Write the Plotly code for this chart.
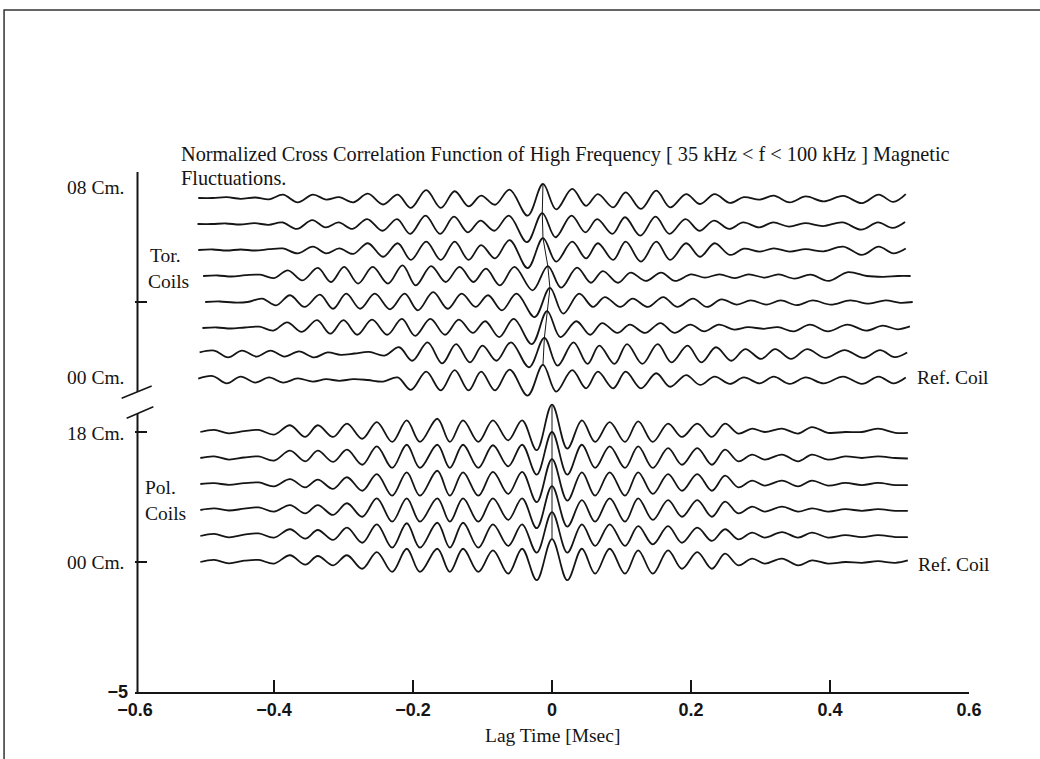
import plotly.graph_objects as go

# ---------------- data ----------------
# lag positions (ms) of the alternating extrema, toroidal group
lag_tor = [-0.506, -0.485, -0.465, -0.445, -0.424, -0.404, -0.384, -0.363, -0.341, -0.322,
           -0.303, -0.283, -0.262, -0.240, -0.219, -0.200, -0.178, -0.157, -0.137, -0.117,
           -0.099, -0.079, -0.058, -0.032, -0.010, 0.009, 0.032, 0.052, 0.069, 0.091,
           0.109, 0.131, 0.153, 0.173, 0.196, 0.216, 0.237, 0.259, 0.279, 0.302,
           0.322, 0.345, 0.368, 0.394, 0.422, 0.449, 0.473, 0.494, 0.512]
# lag positions (ms) of the alternating extrema, poloidal group
lag_pol = [-0.506, -0.486, -0.465, -0.443, -0.422, -0.400, -0.377, -0.355, -0.337, -0.315,
           -0.295, -0.273, -0.252, -0.230, -0.209, -0.190, -0.165, -0.147, -0.128, -0.106,
           -0.085, -0.063, -0.043, -0.022, 0.000, 0.022, 0.043, 0.062, 0.083, 0.105,
           0.124, 0.145, 0.167, 0.187, 0.209, 0.230, 0.249, 0.268, 0.288, 0.306,
           0.331, 0.354, 0.374, 0.397, 0.422, 0.446, 0.469, 0.494, 0.512]

# small lag shift of each toroidal trace (peak drift)
shift_tor = [-0.003, -0.004, -0.003, 0.004, 0.007, 0.003, -0.001, -0.003]
# vertical offsets of the stacked traces
offset_tor = [14, 13, 12, 11, 10, 9, 8, 7]
offset_pol = [5, 4, 3, 2, 1, 0]

# normalized correlation values at the extrema (toroidal coils, top to bottom)
tor_1 = [0, 0, 0.03, -0.03, 0.02, -0.05, 0.13, -0.17, 0.13, -0.06, 0.03, -0.17, 0.17, -0.25, 0.13,
         -0.38, 0.30, -0.38, 0.26, -0.32, 0.09, -0.26, 0.32, -0.68, 0.54,
         -0.44, 0.35, -0.30, 0.15, -0.36, 0.22, -0.42, 0.28, -0.36, 0.15, -0.23, 0.15, -0.19, 0.03,
         -0.06, 0.09, -0.17, 0.06, -0.13, 0.08, -0.20, 0.13, -0.15, 0.15]
tor_2 = [0, 0, 0.02, -0.02, 0.03, -0.03, 0.06, -0.19, 0.15, -0.13, 0.06, -0.19, 0.19, -0.26, 0.19,
         -0.38, 0.32, -0.38, 0.28, -0.32, 0.13, -0.26, 0.32, -0.70, 0.42,
         -0.51, 0.32, -0.32, 0.19, -0.38, 0.26, -0.45, 0.28, -0.38, 0.19, -0.26, 0.13, -0.19, 0.06,
         -0.13, 0.06, -0.10, 0.03, -0.08, 0.06, -0.22, 0.06, -0.15, 0.08]
tor_3 = [0, 0.02, -0.02, 0.02, -0.02, 0.03, 0.06, -0.13, 0.13, -0.13, 0.06, -0.15, 0.26, -0.26, 0.26,
         -0.38, 0.32, -0.38, 0.32, -0.38, 0.19, -0.32, 0.38, -0.70, 0.46,
         -0.45, 0.32, -0.32, 0.26, -0.38, 0.32, -0.45, 0.32, -0.38, 0.26, -0.26, 0.26, -0.19, 0.05,
         -0.06, 0.06, -0.06, 0.03, -0.05, 0.13, -0.19, 0.13, -0.13, 0.06]
tor_4 = [0, 0.02, -0.02, 0.03, 0.05, -0.08, 0.22, -0.17, 0.31, -0.23, 0.35, -0.29, 0.35, -0.29, 0.41,
         -0.36, 0.38, -0.23, 0.35, -0.23, 0.28, -0.36, 0.35, -0.55, 0.38,
         -0.45, 0.32, -0.26, 0.19, -0.26, 0.13, -0.19, 0.13, -0.19, 0.06, -0.06, 0.06, -0.08, 0.06,
         -0.06, 0.06, -0.10, 0.05, -0.19, 0.15, 0.0, -0.03, 0.0, 0.0]
tor_5 = [0, 0.02, -0.02, 0.0, 0.13, -0.13, 0.26, -0.19, 0.28, -0.26, 0.32, -0.26, 0.32, -0.28, 0.32,
         -0.32, 0.38, -0.26, 0.32, -0.19, 0.26, -0.32, 0.32, -0.58, 0.54,
         -0.45, 0.32, -0.19, 0.19, -0.19, 0.13, -0.19, 0.19, -0.19, 0.13, -0.19, 0.10, -0.10, 0.06,
         -0.10, 0.06, -0.12, 0.06, -0.10, 0.06, -0.06, 0.06, -0.03, 0.0]
tor_6 = [0, 0.02, -0.02, 0.02, 0.05, -0.10, 0.22, -0.15, 0.30, -0.22, 0.30, -0.26, 0.32, -0.26, 0.35,
         -0.30, 0.35, -0.26, 0.32, -0.19, 0.26, -0.35, 0.35, -0.62, 0.65,
         -0.35, 0.26, -0.26, 0.19, -0.19, 0.13, -0.19, 0.19, -0.19, 0.13, -0.13, 0.13, -0.06, 0.03,
         -0.03, 0.03, -0.13, 0.13, -0.13, 0.13, -0.10, 0.09, -0.05, 0.06]
tor_7 = [0.06, 0.13, -0.13, 0.13, -0.10, 0.13, -0.10, 0.10, -0.13, 0.06, -0.03, 0.02, 0.08, -0.06, 0.26,
         -0.26, 0.45, -0.36, 0.38, -0.32, 0.32, -0.26, 0.45, -0.51, 0.62,
         -0.45, 0.45, -0.38, 0.32, -0.38, 0.38, -0.38, 0.38, -0.32, 0.32, -0.32, 0.26, -0.26, 0.19,
         -0.19, 0.19, -0.19, 0.19, -0.15, 0.15, -0.15, 0.15, -0.12, 0.06]
tor_8 = [0.05, 0.15, -0.13, 0.13, -0.10, 0.10, -0.10, 0.06, -0.06, 0.03, -0.03, 0.03, 0.0, -0.06, 0.10,
         -0.38, 0.32, -0.40, 0.38, -0.40, 0.32, -0.40, 0.40, -0.60, 0.58,
         -0.45, 0.38, -0.32, 0.32, -0.32, 0.32, -0.32, 0.26, -0.26, 0.19, -0.19, 0.13, -0.15, 0.10,
         -0.13, 0.13, -0.15, 0.10, -0.13, 0.13, -0.15, 0.13, -0.13, 0.10]

# poloidal coils, top to bottom
pol_1 = [0, 0.08, -0.05, 0.03, 0.08, -0.10, 0.26, -0.19, 0.26, -0.19, 0.32, -0.26, 0.38, -0.38, 0.45,
         -0.38, 0.51, -0.38, 0.45, -0.38, 0.45, -0.32, 0.45, -0.70, 1.05,
         -0.64, 0.45, -0.38, 0.38, -0.38, 0.41, -0.38, 0.32, -0.19, 0.32, -0.19, 0.32, -0.06, 0.13,
         0.0, 0.13, -0.06, 0.19, -0.03, 0.0, 0.0, 0.13, -0.03, -0.03]
pol_2 = [0, 0.06, -0.06, 0.02, 0.06, -0.10, 0.28, -0.13, 0.28, -0.15, 0.32, -0.26, 0.45, -0.38, 0.51,
         -0.38, 0.51, -0.38, 0.51, -0.38, 0.49, -0.32, 0.51, -0.64, 1.00,
         -0.64, 0.51, -0.38, 0.45, -0.38, 0.45, -0.38, 0.38, -0.26, 0.38, -0.26, 0.32, -0.13, 0.13,
         -0.06, 0.13, -0.13, 0.13, -0.06, 0.06, 0.0, 0.06, 0.0, -0.02]
pol_3 = [0, 0.03, -0.03, 0.03, 0.06, -0.09, 0.19, -0.13, 0.17, -0.19, 0.26, -0.26, 0.38, -0.45, 0.45,
         -0.45, 0.51, -0.45, 0.45, -0.45, 0.47, -0.38, 0.47, -0.70, 0.96,
         -0.64, 0.45, -0.45, 0.45, -0.45, 0.45, -0.38, 0.38, -0.26, 0.38, -0.26, 0.32, -0.13, 0.13,
         -0.06, 0.13, -0.09, 0.13, -0.06, 0.04, -0.04, 0.04, -0.04, -0.04]
pol_4 = [0, 0.06, -0.02, 0.05, 0.10, -0.06, 0.19, -0.13, 0.19, -0.19, 0.26, -0.26, 0.45, -0.45, 0.45,
         -0.45, 0.45, -0.45, 0.45, -0.45, 0.45, -0.38, 0.45, -0.70, 0.92,
         -0.64, 0.38, -0.45, 0.45, -0.45, 0.45, -0.38, 0.38, -0.26, 0.38, -0.26, 0.32, -0.13, 0.13,
         -0.06, 0.13, -0.06, 0.06, -0.06, 0.03, -0.03, 0.03, -0.03, -0.03]
pol_5 = [0, 0.08, -0.05, 0.05, 0.10, -0.06, 0.26, -0.10, 0.23, -0.15, 0.32, -0.26, 0.45, -0.45, 0.49,
         -0.45, 0.51, -0.45, 0.51, -0.45, 0.45, -0.38, 0.45, -0.64, 0.92,
         -0.64, 0.45, -0.38, 0.45, -0.38, 0.38, -0.32, 0.38, -0.26, 0.32, -0.19, 0.26, -0.13, 0.13,
         -0.06, 0.15, -0.06, 0.13, -0.06, 0.03, -0.04, 0.03, -0.04, -0.04]
pol_6 = [0, 0.08, -0.05, 0.05, 0.08, -0.06, 0.26, -0.10, 0.23, -0.13, 0.26, -0.26, 0.38, -0.38, 0.51,
         -0.38, 0.51, -0.38, 0.51, -0.38, 0.45, -0.45, 0.51, -0.70, 0.88,
         -0.70, 0.51, -0.45, 0.51, -0.45, 0.45, -0.45, 0.45, -0.26, 0.38, -0.26, 0.32, -0.13, 0.13,
         -0.06, 0.13, -0.13, 0.06, -0.06, 0.0, -0.03, 0.03, -0.03, 0.06]

tor_traces = [tor_1, tor_2, tor_3, tor_4, tor_5, tor_6, tor_7, tor_8]
pol_traces = [pol_1, pol_2, pol_3, pol_4, pol_5, pol_6]

x_ticks = [-0.6, -0.4, -0.2, 0, 0.2, 0.4, 0.6]
x_ticktext = ["\u22120.6", "\u22120.4", "\u22120.2", "0", "0.2", "0.4", "0.6"]
y_ticks = [-5, 0, 5, 10, 15]
y_ticktext = ["\u22125", "", "", "", ""]

TITLE_1 = "Normalized Cross Correlation Function of High Frequency [ 35 kHz &lt; f &lt; 100 kHz ] Magnetic"
TITLE_2 = "Fluctuations."

# ---------------- figure ----------------
INK = "#151515"
SERIF = "Liberation Serif, Times New Roman, serif"
SANS = "Liberation Sans, Arial, sans-serif"
LBL = 19.5

fig = go.Figure()

peak_x_tor, peak_y_tor = [], []
for vals, off, sh in zip(tor_traces, offset_tor, shift_tor):
    xs = [g + sh for g in lag_tor]
    ys = [off + v for v in vals]
    fig.add_trace(go.Scatter(x=xs, y=ys, mode="lines",
                             line=dict(color=INK, width=1.8, shape="spline", smoothing=1.0),
                             hoverinfo="skip"))
    peak_x_tor.append(xs[24])
    peak_y_tor.append(ys[24])

peak_x_pol, peak_y_pol = [], []
for vals, off in zip(pol_traces, offset_pol):
    ys = [off + v for v in vals]
    fig.add_trace(go.Scatter(x=lag_pol, y=ys, mode="lines",
                             line=dict(color=INK, width=1.8, shape="spline", smoothing=1.0),
                             hoverinfo="skip"))
    peak_x_pol.append(lag_pol[24])
    peak_y_pol.append(ys[24])

# thin lines joining the correlation maxima
for px_, py_ in ((peak_x_tor, peak_y_tor), (peak_x_pol, peak_y_pol)):
    fig.add_trace(go.Scatter(x=px_, y=py_, mode="lines",
                             line=dict(color=INK, width=1), hoverinfo="skip"))

shapes = [
    # broken y axis
    dict(type="line", xref="paper", yref="y", x0=0.003, x1=0.003, y0=-5, y1=5.69,
         line=dict(color=INK, width=2)),
    dict(type="line", xref="paper", yref="y", x0=0.003, x1=0.003, y0=6.54, y1=15,
         line=dict(color=INK, width=2)),
    dict(type="line", xref="paper", yref="y", x0=-0.016, x1=0.020, y0=6.30, y1=6.77,
         line=dict(color=INK, width=1.5)),
    dict(type="line", xref="paper", yref="y", x0=-0.010, x1=0.022, y0=5.53, y1=5.97,
         line=dict(color=INK, width=1.5)),
    # scanned page frame
    dict(type="rect", xref="paper", yref="paper", x0=-0.157, x1=1.10, y0=-0.2, y1=1.3115,
         line=dict(color="#333333", width=1.5)),
]

ann = [
    dict(text=TITLE_1, xref="paper", yref="paper", x=0.0528, y=1.0327, xanchor="left", yanchor="middle",
         showarrow=False, font=dict(family=SERIF, size=20.3, color=INK)),
    dict(text=TITLE_2, xref="paper", yref="paper", x=0.0528, y=0.9885, xanchor="left", yanchor="middle",
         showarrow=False, font=dict(family=SERIF, size=20.3, color=INK)),
    dict(text="08 Cm.", xref="paper", yref="y", x=-0.011, y=14.42, xanchor="right", yanchor="middle",
         showarrow=False, font=dict(family=SERIF, size=LBL, color=INK)),
    dict(text="00 Cm.", xref="paper", yref="y", x=-0.011, y=7.08, xanchor="right", yanchor="middle",
         showarrow=False, font=dict(family=SERIF, size=LBL, color=INK)),
    dict(text="18 Cm.", xref="paper", yref="y", x=-0.011, y=4.96, xanchor="right", yanchor="middle",
         showarrow=False, font=dict(family=SERIF, size=LBL, color=INK)),
    dict(text="00 Cm.", xref="paper", yref="y", x=-0.011, y=0.0, xanchor="right", yanchor="middle",
         showarrow=False, font=dict(family=SERIF, size=LBL, color=INK)),
    dict(text="Tor.", xref="paper", yref="y", x=0.036, y=11.8, xanchor="center", yanchor="middle",
         showarrow=False, font=dict(family=SERIF, size=LBL, color=INK)),
    dict(text="Coils", xref="paper", yref="y", x=0.040, y=10.8, xanchor="center", yanchor="middle",
         showarrow=False, font=dict(family=SERIF, size=LBL, color=INK)),
    dict(text="Pol.", xref="paper", yref="y", x=0.031, y=2.85, xanchor="center", yanchor="middle",
         showarrow=False, font=dict(family=SERIF, size=LBL, color=INK)),
    dict(text="Coils", xref="paper", yref="y", x=0.036, y=1.88, xanchor="center", yanchor="middle",
         showarrow=False, font=dict(family=SERIF, size=LBL, color=INK)),
    dict(text="Ref. Coil", xref="paper", yref="y", x=0.935, y=7.1, xanchor="left", yanchor="middle",
         showarrow=False, font=dict(family=SERIF, size=LBL, color=INK)),
    dict(text="Ref. Coil", xref="paper", yref="y", x=0.937, y=-0.1, xanchor="left", yanchor="middle",
         showarrow=False, font=dict(family=SERIF, size=LBL, color=INK)),
    dict(text="Lag Time [Msec]", xref="paper", yref="paper", x=0.5, y=-0.083, xanchor="center",
         yanchor="middle", showarrow=False, font=dict(family=SERIF, size=LBL, color=INK)),
]

fig.update_layout(
    width=1040, height=759,
    margin=dict(l=135, r=71, t=172, b=67),
    paper_bgcolor="white", plot_bgcolor="white",
    showlegend=False,
    shapes=shapes, annotations=ann,
    xaxis=dict(range=[-0.6, 0.6], tickvals=x_ticks, ticktext=x_ticktext,
               ticks="inside", ticklen=12, tickwidth=1.5, tickcolor=INK,
               showline=True, linewidth=2, linecolor=INK,
               showgrid=False, zeroline=False,
               tickfont=dict(family=SANS, size=18, color=INK, weight="bold")),
    yaxis=dict(range=[-5, 15], tickvals=y_ticks, ticktext=y_ticktext,
               ticks="inside", ticklen=12, tickwidth=1.5, tickcolor=INK,
               showline=False, showgrid=False, zeroline=False, ticklabelstandoff=6,
               tickfont=dict(family=SANS, size=18, color=INK, weight="bold")),
)

fig.write_html(
    "out.html",
    config={"displayModeBar": False},
    post_script="document.body.style.margin='0';document.body.style.padding='0';"
                "document.documentElement.style.overflow='hidden';",
)
